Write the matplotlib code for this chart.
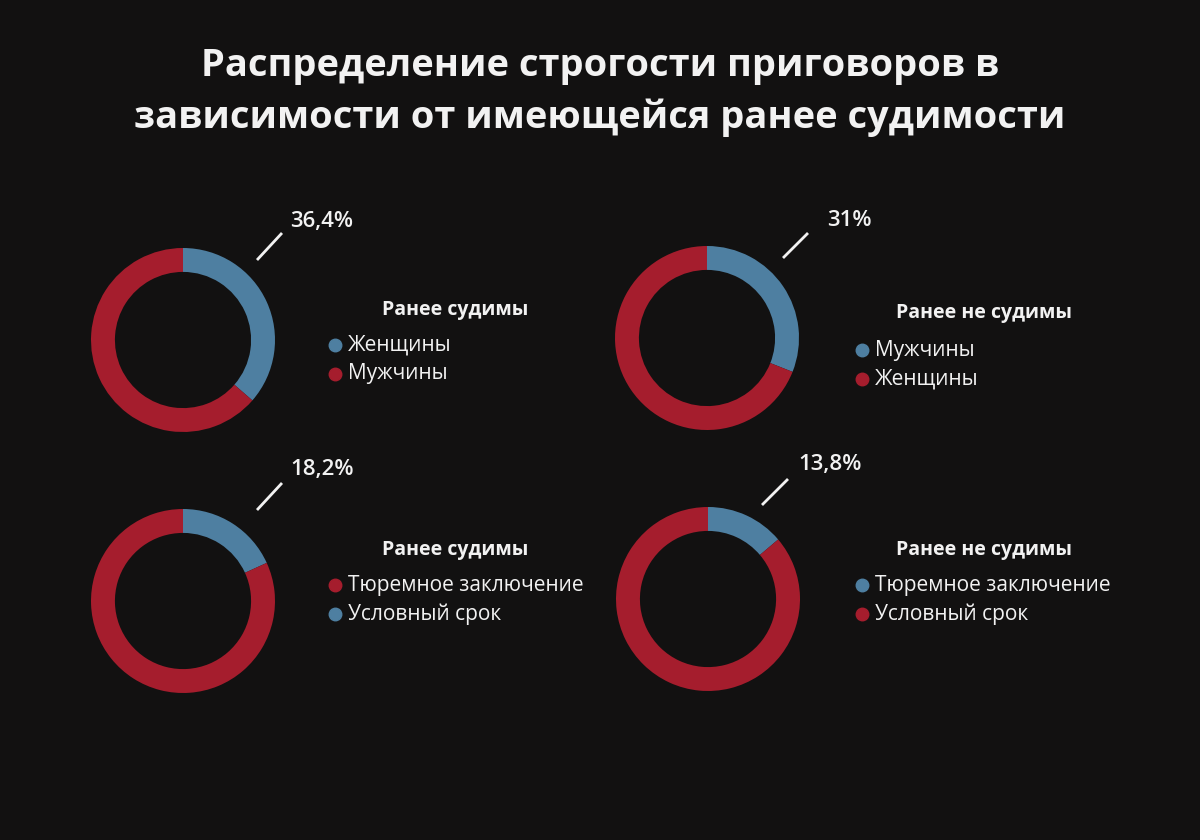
import matplotlib
matplotlib.use('Agg')
import matplotlib.pyplot as plt
from matplotlib.lines import Line2D

plt.rcParams['font.family'] = ['Open Sans', 'DejaVu Sans']

BG = '#121111'
BLUE = '#4e7fa1'
RED = '#a51d2d'
FG = '#f2f2f2'

title = 'Распределение строгости приговоров в\nзависимости от имеющейся ранее судимости'

# данные по четырём диаграммам
group_titles = ['Ранее судимы', 'Ранее не судимы', 'Ранее судимы', 'Ранее не судимы']
categories = [
    ['Женщины', 'Мужчины'],
    ['Мужчины', 'Женщины'],
    ['Тюремное заключение', 'Условный срок'],
    ['Тюремное заключение', 'Условный срок'],
]
shares = [
    [36.4, 63.6],
    [31.0, 69.0],
    [81.8, 18.2],
    [13.8, 86.2],
]
cat_colors = [
    [BLUE, RED],
    [BLUE, RED],
    [RED, BLUE],
    [BLUE, RED],
]
pct_labels = ['36,4%', '31%', '18,2%', '13,8%']

# раскладка (пиксели)
W, H = 1200, 840
R = 92
centers = [(183, 340), (707, 338), (183, 601), (708, 599)]
lines = [((257, 260), (282, 233)), ((783, 258), (808, 233)),
         ((257, 510), (282, 483)), ((762, 505), (788, 479))]
pct_pos = [(290, 221), (827, 221), (290, 470), (798, 465)]
leg_title_pos = [(455, 310), (984, 313), (455, 550), (984, 550)]
leg_item_pos = [(335, 345, 29), (862, 350, 29), (335, 585, 29), (862, 585, 29)]


def fx(x):
    return x / W


def fy(y):
    return 1 - y / H


fig = plt.figure(figsize=(W / 100, H / 100), dpi=100, facecolor=BG)
fig.text(0.5, fy(92), title, ha='center', va='center', color=FG,
         fontsize=27.4, fontweight='bold', linespacing=1.45)

for i in range(4):
    cx, cy = centers[i]
    ax = fig.add_axes([fx(cx - R), fy(cy + R), 2 * R / W, 2 * R / H])
    ax.set_facecolor(BG)
    vals = shares[i]
    cols = cat_colors[i]
    # синий сектор всегда идёт от 12 часов по часовой стрелке
    bi = cols.index(BLUE)
    order = [bi] + [j for j in range(len(vals)) if j != bi]
    ax.pie([vals[j] for j in order], colors=[cols[j] for j in order],
           startangle=90, counterclock=False, radius=1.0,
           wedgeprops=dict(width=0.26, edgecolor='none'))
    ax.set_xlim(-1, 1)
    ax.set_ylim(-1, 1)
    ax.set_aspect('equal')
    ax.axis('off')

    (x0, y0), (x1, y1) = lines[i]
    ax.plot([(x0 - cx) / R, (x1 - cx) / R], [(cy - y0) / R, (cy - y1) / R],
            color=FG, lw=2, clip_on=False, solid_capstyle='butt')
    px, py = pct_pos[i]
    ax.text((px - cx) / R, (cy - py) / R, pct_labels[i], ha='left', va='center',
            color=FG, fontsize=16, fontweight='semibold', clip_on=False)

    tx, ty = leg_title_pos[i]
    fig.text(fx(tx), fy(ty), group_titles[i], ha='center', va='center',
             color=FG, fontsize=14, fontweight='bold')
    mx, my, step = leg_item_pos[i]
    for k, name in enumerate(categories[i]):
        yy = my + k * step
        fig.add_artist(Line2D([fx(mx)], [fy(yy)], marker='o', markersize=9,
                              color=cat_colors[i][k], linestyle='none',
                              transform=fig.transFigure))
        fig.text(fx(mx + 13), fy(yy), name, ha='left', va='center',
                 color=FG, fontsize=15)

fig.savefig('out.png', dpi=100, facecolor=BG)
